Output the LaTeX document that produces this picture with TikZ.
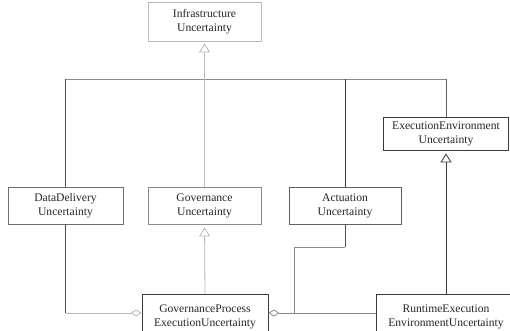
\documentclass[tikz,border=0pt]{standalone}
\usepackage{fontspec}
\setmainfont{Liberation Serif}
\usetikzlibrary{arrows.meta}
\definecolor{lightln}{HTML}{B8B8B8}
\definecolor{midln}{HTML}{8A8A8A}
\definecolor{darkln}{HTML}{3A3A3A}
\begin{document}
\begin{tikzpicture}[x=1pt,y=-1pt,line width=0.8pt,
  box/.style={draw,rectangle,inner sep=0pt,align=center,font=\fontsize{11.6}{14}\selectfont,text=black!85},
  gen/.style={-{Triangle[open,length=9pt,width=11pt]}},
  agg/.style={-{Diamond[open,length=11pt,width=7pt]}}]
\useasboundingbox (0,0) rectangle (510,331);
\clip (0,0) rectangle (510,331);
\fill[white] (0,0) rectangle (510,331);
% classes
\node[box,draw=lightln,minimum width=113pt,minimum height=39pt] (infra) at (204.5,21.5) {Infrastructure\\Uncertainty};
\node[box,draw=midln!80!black,minimum width=115pt,minimum height=37pt] (dd) at (65.5,205.5) {DataDelivery\\Uncertainty};
\node[box,draw=midln,minimum width=113pt,minimum height=37pt] (gov) at (204.5,205.5) {Governance\\Uncertainty};
\node[box,draw=darkln!80,minimum width=112pt,minimum height=37pt] (act) at (345,205.5) {Actuation\\Uncertainty};
\node[box,draw=darkln,minimum width=125pt,minimum height=33pt] (ee) at (446,133.5) {ExecutionEnvironment\\Uncertainty};
\node[box,draw=darkln,minimum width=126pt,minimum height=46pt] (gp) at (205,317) {GovernanceProcess\\ExecutionUncertainty};
\node[box,draw=darkln,minimum width=140pt,minimum height=46pt] (rt) at (446,317) {RuntimeExecution\\EnvironmentUncertainty};
% generalisation tree to Infrastructure
\coordinate (bar) at (204.5,79);
\draw[gen,draw=lightln,shorten >=2pt] (bar) -- (infra.south);
\draw[midln] (dd.north |- bar) -- (ee.north |- bar);
\draw[darkln!90] (dd.north) -- (dd.north |- bar);
\draw[lightln] (gov.north) -- (gov.north |- bar);
\draw[darkln] (act.north) -- (act.north |- bar);
\draw[darkln!80] (ee.north) -- (ee.north |- bar);
% governance process generalisation
\draw[gen,draw=lightln,shorten >=3pt] (gp.north) -- (gov.south);
% runtime generalisation
\draw[gen,draw=darkln,shorten >=3pt] (rt.north) -- (ee.south);
% aggregations
\coordinate (gpL) at ([yshift=4pt]gp.west);
\coordinate (gpR) at ([yshift=4pt]gp.east);
\draw[darkln!90] (dd.south) -- (dd.south |- gpL);
\draw[agg,draw=lightln] (dd.south |- gpL) -- (gpL);
\coordinate (bend1) at (294,247);
\draw[darkln!90] (act.south) -- (act.south |- bend1);
\draw[midln] (act.south |- bend1) -- (bend1) -- (bend1 |- gpR);
\draw[agg,draw=midln] (rt.west |- gpR) -- (gpR);
\end{tikzpicture}
\end{document}
